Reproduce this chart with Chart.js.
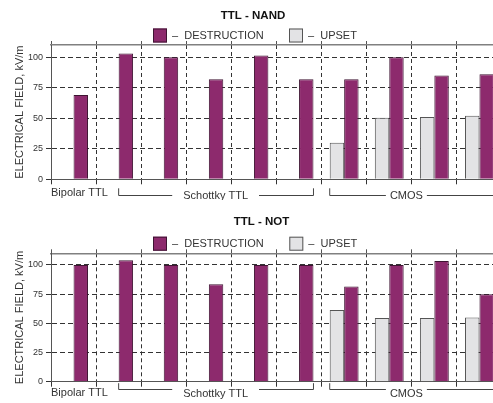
<!DOCTYPE html>
<html>
<head>
<meta charset="utf-8">
<script src="https://cdn.jsdelivr.net/npm/chart.js@4.4.0/dist/chart.umd.min.js"></script>
<style>
  html, body { margin: 0; padding: 0; background: #fff; overflow: hidden; }
  body { width: 493px; height: 403px; position: relative; }
  .panel { position: absolute; left: 0; }
  #nandBox { top: 0; }
  #notBox { top: 200px; }
</style>
</head>
<body>
<div class="panel" id="nandBox"><canvas id="nandChart" width="512" height="200"></canvas></div>
<div class="panel" id="notBox"><canvas id="notChart" width="512" height="203"></canvas></div>
<script>
// data
const categories = ['Bipolar', 'Schottky 1', 'Schottky 2', 'Schottky 3', 'Schottky 4', 'Schottky 5',
                    'CMOS 1', 'CMOS 2', 'CMOS 3', 'CMOS 4'];
const groupLabels = ['Bipolar TTL', 'Schottky TTL', 'CMOS'];
const yTicks = [0, 25, 50, 75, 100];

const nandDestruction = [69, 103, 100, 82, 101.5, 82, 82, 100, 85, 86];
const nandUpset = [null, null, null, null, null, null, 30, 50.5, 51, 52];
const notDestruction = [100, 104, 100, 83.5, 100, 100, 81.5, 100, 103.5, 75];
const notUpset = [null, null, null, null, null, null, 61.5, 54.5, 54.5, 55];

const FAMILY = '"Liberation Sans", Arial, sans-serif';
Chart.defaults.font.family = FAMILY;
Chart.defaults.color = '#333';

// title, legend and family brackets under the axis
const decorPlugin = {
    id: 'decor',
    afterDraw(chart, args, opts) {
        const ctx = chart.ctx;
        const area = chart.chartArea;
        const x = chart.scales.x;
        ctx.save();

        ctx.fillStyle = '#111';
        ctx.font = 'bold 11.5px ' + FAMILY;
        ctx.textAlign = 'center';
        ctx.textBaseline = 'middle';
        ctx.fillText(opts.title, opts.titleX, opts.titleY);

        // legend: destruction first
        ctx.font = '11px ' + FAMILY;
        ctx.textAlign = 'left';
        [1, 0].forEach((di, k) => {
            const ds = chart.data.datasets[di];
            const bx = opts.legendX[k];
            ctx.fillStyle = ds.backgroundColor;
            ctx.fillRect(bx, opts.legendY - 7, 14, 14);
            ctx.strokeStyle = ds.borderColor;
            ctx.lineWidth = 1;
            ctx.strokeRect(bx + 0.5, opts.legendY - 6.5, 13, 13);
            ctx.fillStyle = '#333';
            ctx.fillText('\u2013  ' + ds.label, bx + 19, opts.legendY);
        });

        // group labels
        const b = area.bottom;
        ctx.fillStyle = '#333';
        ctx.strokeStyle = '#444';
        ctx.lineWidth = 1;
        ctx.fillText(groupLabels[0], area.left, b + opts.bipolarDy);
        const brackets = [
            { label: groupLabels[1], from: 1.0, to: 5.32, mid: 3.15, gap: 11 },
            { label: groupLabels[2], from: 5.68, to: 10, mid: 7.38, gap: 4 }
        ];
        ctx.textAlign = 'center';
        brackets.forEach(br => {
            const x1 = x.getPixelForValue(br.from);
            const x2 = x.getPixelForValue(br.to);
            const xm = x.getPixelForValue(br.mid);
            const half = ctx.measureText(br.label).width / 2 + br.gap;
            const ly = Math.round(b + opts.lineDy) + 0.5;
            const ty = b + opts.tickDy;
            ctx.beginPath();
            ctx.moveTo(x1, ty);
            ctx.lineTo(x1, ly);
            ctx.lineTo(xm - half, ly);
            ctx.moveTo(xm + half, ly);
            ctx.lineTo(x2, ly);
            ctx.lineTo(x2, ty);
            ctx.stroke();
            ctx.fillText(br.label, xm, b + opts.textDy);
        });
        ctx.restore();
    }
};

function makeChart(id, destruction, upset, decor, padTop, xHeight) {
    return new Chart(document.getElementById(id), {
        type: 'bar',
        data: {
            labels: categories,
            datasets: [{
                label: 'UPSET',
                data: upset,
                backgroundColor: '#e3e3e5',
                borderColor: '#555',
                borderWidth: 1
            }, {
                label: 'DESTRUCTION',
                data: destruction,
                backgroundColor: '#8d2a6d',
                borderColor: '#3e1432',
                borderWidth: 1
            }]
        },
        options: {
            responsive: false,
            animation: false,
            datasets: { bar: { categoryPercentage: 0.64, barPercentage: 1 } },
            layout: { padding: { top: padTop, right: 10, left: 0, bottom: 0 } },
            plugins: {
                legend: { display: false },
                title: { display: false },
                tooltip: { enabled: false },
                decor: decor
            },
            scales: {
                x: {
                    offset: true,
                    grid: { offset: true, color: '#333', lineWidth: 1, tickLength: 5 },
                    border: { color: '#555', width: 1, dash: [4, 3] },
                    ticks: { display: false },
                    afterFit: s => { s.height = xHeight; }
                },
                x2: {
                    type: 'category',
                    labels: categories,
                    position: 'top',
                    offset: true,
                    grid: { offset: true, drawOnChartArea: false, color: '#555', tickLength: 4 },
                    border: { color: '#808080', width: 1.5 },
                    ticks: { display: false },
                    afterFit: s => { s.height = 4; }
                },
                y: {
                    min: 0,
                    max: 110,
                    ticks: { stepSize: 25, color: '#333', font: { size: 9 }, padding: 3 },
                    afterBuildTicks: s => { s.ticks = yTicks.map(v => ({ value: v })); },
                    grid: { color: '#333', tickLength: 5 },
                    border: { color: '#555', width: 1, dash: [5, 3] },
                    title: {
                        display: true,
                        text: 'ELECTRICAL FIELD, kV/m',
                        color: '#333',
                        font: { size: 11 },
                        padding: { top: 13, bottom: 0 }
                    },
                    afterFit: s => { s.width = 51; }
                }
            }
        },
        plugins: [decorPlugin]
    });
}

makeChart('nandChart', nandDestruction, nandUpset, {
    title: 'TTL - NAND', titleX: 253, titleY: 15.7,
    legendX: [153, 289], legendY: 35.5,
    bipolarDy: 14, tickDy: 9, lineDy: 16, textDy: 16.5
}, 41, 20.7);

makeChart('notChart', notDestruction, notUpset, {
    title: 'TTL - NOT', titleX: 261.5, titleY: 21.7,
    legendX: [153, 289.3], legendY: 43.7,
    bipolarDy: 11.5, tickDy: 1.5, lineDy: 7, textDy: 12.5
}, 49.3, 21.3);
</script>
</body>
</html>
